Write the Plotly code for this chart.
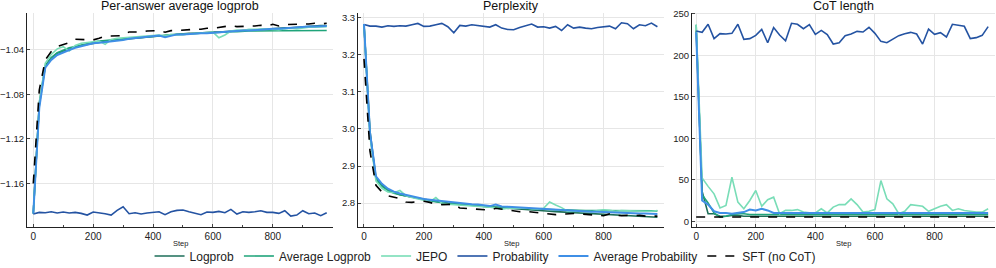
import plotly.graph_objects as go

steps = list(range(0, 1000, 20))

# ---------------- Per-answer average logprob ----------------
lp_logprob = [-1.187, -1.088, -1.054, -1.047, -1.043, -1.041, -1.039, -1.0375, -1.036, -1.035,
              -1.034, -1.033, -1.032, -1.0315, -1.031, -1.0305, -1.030, -1.029, -1.0285, -1.028,
              -1.0275, -1.027, -1.0265, -1.026, -1.026, -1.0255, -1.025, -1.025, -1.0245, -1.0245,
              -1.024, -1.024, -1.0235, -1.023, -1.023, -1.0225, -1.022, -1.022, -1.0215, -1.021,
              -1.021, -1.0205, -1.020, -1.020, -1.0195, -1.019, -1.019, -1.0185, -1.018, -1.018]
lp_avg_logprob = [-1.187, -1.090, -1.055, -1.047, -1.0425, -1.040, -1.038, -1.037, -1.0355, -1.034,
                  -1.033, -1.032, -1.0315, -1.031, -1.0305, -1.030, -1.0295, -1.029, -1.0285, -1.028,
                  -1.0275, -1.027, -1.027, -1.0265, -1.026, -1.026, -1.0255, -1.025, -1.025, -1.0245,
                  -1.0245, -1.024, -1.024, -1.0235, -1.0235, -1.023, -1.023, -1.023, -1.0228, -1.0228,
                  -1.0228, -1.0227, -1.0227, -1.0226, -1.0226, -1.0226, -1.0225, -1.0225, -1.0225, -1.0225]
lp_jepo = [-1.187, -1.087, -1.052, -1.044, -1.039, -1.037, -1.041, -1.036, -1.034, -1.0335,
           -1.033, -1.032, -1.035, -1.0305, -1.0295, -1.029, -1.029, -1.0285, -1.028, -1.0275,
           -1.027, -1.0265, -1.0275, -1.026, -1.0265, -1.026, -1.0255, -1.025, -1.0245, -1.0245,
           -1.024, -1.029, -1.0265, -1.023, -1.022, -1.0225, -1.0215, -1.0215, -1.021, -1.021,
           -1.0215, -1.022, -1.021, -1.0205, -1.021, -1.020, -1.0195, -1.0195, -1.019, -1.019]
lp_probability = [-1.1875, -1.1860, -1.1863, -1.1854, -1.1866, -1.1857, -1.1866, -1.1860, -1.1869, -1.1884,
                  -1.1857, -1.1863, -1.1872, -1.1884, -1.1842, -1.1809, -1.1872, -1.1863, -1.1875, -1.1866,
                  -1.1860, -1.1854, -1.1881, -1.1854, -1.1842, -1.1839, -1.1854, -1.1866, -1.1881, -1.1857,
                  -1.1860, -1.1851, -1.1863, -1.1833, -1.1875, -1.1854, -1.1860, -1.1854, -1.1845, -1.1860,
                  -1.1860, -1.1869, -1.1845, -1.1893, -1.1884, -1.1845, -1.1872, -1.1866, -1.1890, -1.1863]
lp_avg_probability = [-1.187, -1.092, -1.056, -1.049, -1.0445, -1.042, -1.040, -1.038, -1.0365, -1.035,
                      -1.034, -1.0335, -1.033, -1.032, -1.0315, -1.031, -1.030, -1.0295, -1.029, -1.028,
                      -1.0275, -1.027, -1.0285, -1.027, -1.026, -1.026, -1.0255, -1.0255, -1.025, -1.025,
                      -1.0245, -1.024, -1.024, -1.0235, -1.023, -1.0225, -1.0225, -1.022, -1.022, -1.0215,
                      -1.021, -1.021, -1.0205, -1.020, -1.020, -1.0195, -1.019, -1.019, -1.0185, -1.0185]
lp_sft = [-1.160, -1.076, -1.049, -1.0415, -1.037, -1.035, -1.0334, -1.0304, -1.0304, -1.031,
          -1.031, -1.0295, -1.0274, -1.0274, -1.0274, -1.0271, -1.0238, -1.0238, -1.0238, -1.0229,
          -1.0226, -1.0226, -1.0241, -1.0226, -1.0226, -1.022, -1.022, -1.0214, -1.0214, -1.0205,
          -1.0205, -1.0196, -1.0184, -1.0181, -1.019, -1.019, -1.0184, -1.0184, -1.0178, -1.0184,
          -1.0169, -1.0184, -1.0172, -1.0172, -1.0166, -1.0172, -1.0166, -1.016, -1.0166, -1.016]

# ---------------- Perplexity ----------------
pp_logprob = [3.283, 2.995, 2.868, 2.848, 2.835, 2.828, 2.823, 2.819, 2.816, 2.812,
              2.809, 2.806, 2.804, 2.802, 2.800, 2.799, 2.797, 2.796, 2.794, 2.793,
              2.791, 2.790, 2.789, 2.787, 2.786, 2.785, 2.784, 2.783, 2.781, 2.780,
              2.779, 2.778, 2.777, 2.776, 2.775, 2.774, 2.773, 2.772, 2.771, 2.770,
              2.769, 2.768, 2.768, 2.767, 2.766, 2.765, 2.765, 2.764, 2.763, 2.762]
pp_avg_logprob = [3.283, 2.985, 2.865, 2.845, 2.834, 2.827, 2.823, 2.820, 2.818, 2.815,
                  2.810, 2.806, 2.803, 2.800, 2.799, 2.798, 2.797, 2.797, 2.795, 2.793,
                  2.792, 2.790, 2.790, 2.789, 2.788, 2.787, 2.786, 2.786, 2.785, 2.784,
                  2.784, 2.783, 2.782, 2.782, 2.781, 2.781, 2.780, 2.780, 2.780, 2.780,
                  2.779, 2.779, 2.779, 2.779, 2.779, 2.779, 2.779, 2.779, 2.779, 2.779]
pp_jepo = [3.283, 2.980, 2.860, 2.840, 2.830, 2.828, 2.834, 2.820, 2.815, 2.812,
           2.808, 2.804, 2.815, 2.800, 2.797, 2.796, 2.795, 2.795, 2.794, 2.792,
           2.791, 2.789, 2.787, 2.784, 2.786, 2.787, 2.788, 2.787, 2.785, 2.784,
           2.786, 2.803, 2.795, 2.788, 2.778, 2.778, 2.777, 2.776, 2.777, 2.780,
           2.782, 2.781, 2.778, 2.780, 2.779, 2.778, 2.777, 2.778, 2.778, 2.780]
pp_probability = [3.2819, 3.2774, 3.2774, 3.2747, 3.2783, 3.2765, 3.2783, 3.2774, 3.2810, 3.2846,
                  3.2765, 3.2774, 3.2810, 3.2846, 3.2756, 3.2593, 3.2792, 3.2774, 3.2810, 3.2792,
                  3.2774, 3.2747, 3.2810, 3.2720, 3.2684, 3.2675, 3.2738, 3.2774, 3.2828, 3.2747,
                  3.2756, 3.2720, 3.2765, 3.2656, 3.2810, 3.2720, 3.2747, 3.2720, 3.2702, 3.2738,
                  3.2756, 3.2774, 3.2702, 3.2864, 3.2837, 3.2702, 3.2810, 3.2783, 3.2855, 3.2756]
pp_avg_probability = [3.283, 2.990, 2.872, 2.852, 2.839, 2.831, 2.826, 2.822, 2.818, 2.815,
                      2.811, 2.809, 2.807, 2.805, 2.803, 2.801, 2.800, 2.799, 2.797, 2.796,
                      2.794, 2.792, 2.796, 2.791, 2.790, 2.789, 2.788, 2.787, 2.786, 2.786,
                      2.785, 2.784, 2.783, 2.781, 2.780, 2.779, 2.779, 2.778, 2.777, 2.777,
                      2.776, 2.775, 2.775, 2.774, 2.773, 2.773, 2.772, 2.772, 2.771, 2.771]
pp_sft = [3.189, 2.940, 2.848, 2.830, 2.820, 2.816, 2.812, 2.803, 2.802, 2.804,
          2.805, 2.802, 2.797, 2.796, 2.797, 2.797, 2.787, 2.786, 2.784, 2.783,
          2.782, 2.781, 2.786, 2.784, 2.781, 2.778, 2.777, 2.778, 2.776, 2.774,
          2.773, 2.769, 2.769, 2.770, 2.772, 2.772, 2.771, 2.770, 2.768, 2.769,
          2.766, 2.771, 2.767, 2.766, 2.767, 2.766, 2.767, 2.765, 2.766, 2.765]

# ---------------- CoT length ----------------
cot_logprob = [230, 36, 9, 9, 6, 6, 7, 7, 6, 6,
               6, 6, 6, 6, 6, 6, 6, 6, 6, 6,
               6, 6, 6, 6, 6, 6, 6, 6, 6, 6,
               6, 6, 6, 6, 6, 6, 6, 6, 6, 6,
               6, 6, 6, 6, 6, 6, 6, 6, 6, 6]
cot_avg_logprob = [237, 32, 22, 10, 5, 6, 8, 9, 9, 8,
                   8, 8, 8, 8, 8, 8, 8, 8, 8, 8,
                   8, 8, 8, 8, 8, 8, 8, 8, 8, 8,
                   8, 8, 8, 8, 8, 8, 8, 8, 8, 8,
                   8, 8, 8, 8, 8, 8, 8, 8, 8, 8]
cot_jepo = [237, 52, 42, 33, 16, 19, 53, 23, 15, 25,
            37, 18, 26, 29, 9, 13, 13, 14, 11, 10,
            10, 15, 10, 17, 20, 20, 27, 20, 11, 12,
            14, 49, 27, 21, 9, 12, 20, 19, 18, 12,
            15, 18, 20, 13, 15, 13, 12, 11, 11, 15]
cot_probability = [229.4, 227.8, 237.5, 220.2, 226.2, 225.8, 226.6, 237.5, 219.3, 220.2,
                   224.2, 231.4, 215.3, 233.5, 224.6, 217.7, 238.7, 237.5, 232.2, 237.1,
                   225.4, 230.2, 225.0, 213.7, 215.3, 223.8, 225.8, 229.0, 228.2, 233.9,
                   226.6, 216.9, 215.3, 219.3, 223.8, 226.2, 227.8, 225.8, 213.7, 231.8,
                   225.4, 227.4, 222.2, 237.5, 235.9, 235.1, 220.2, 221.4, 224.2, 234.7]
cot_avg_probability = [228, 25, 20, 12, 10, 10, 9, 10, 11, 14,
                       13, 15, 13, 10, 10, 10, 10, 10, 10, 10,
                       10, 10, 10, 10, 10, 10, 10, 10, 10, 10,
                       10, 10, 10, 10, 10, 10, 10, 10, 10, 10,
                       10, 10, 10, 10, 10, 10, 10, 10, 10, 10]
cot_sft = [5] * 50

series_names = ["Logprob", "Average Logprob", "JEPO", "Probability", "Average Probability", "SFT (no CoT)"]
colors = ["#1d6e58", "#1fa47a", "#79ddb7", "#2453a2", "#3f8fe6", "#000000"]
dashes = ["solid", "solid", "solid", "solid", "solid", "dash"]
widths = [1.6, 1.6, 1.6, 1.6, 2.0, 1.6]

panels = [
    [lp_logprob, lp_avg_logprob, lp_jepo, lp_probability, lp_avg_probability, lp_sft],
    [pp_logprob, pp_avg_logprob, pp_jepo, pp_probability, pp_avg_probability, pp_sft],
    [cot_logprob, cot_avg_logprob, cot_jepo, cot_probability, cot_avg_probability, cot_sft],
]
titles = ["Per-answer average logprob", "Perplexity", "CoT length"]

W, H = 996, 268
xdoms = [(27, 333), (358, 664), (692, 995)]
ytop, ybot = 12.7, 226.5
ydom = [1 - ybot / H, 1 - ytop / H]
xranges = [[-21, 1001], [-20, 1002], [-14, 1003]]
yranges = [[-1.1987, -1.0065], [2.737, 3.3135], [-6.4, 251.5]]
ytickvals = [[-1.16, -1.12, -1.08, -1.04], [2.8, 2.9, 3.0, 3.1, 3.2, 3.3], [0, 50, 100, 150, 200, 250]]
yticktext = [["−1.16", "−1.12", "−1.08", "−1.04"], ["2.8", "2.9", "3.0", "3.1", "3.2", "3.3"],
             ["0", "50", "100", "150", "200", "250"]]

fig = go.Figure()
FONT = "Liberation Sans"

for p in range(3):
    xa = "x" if p == 0 else f"x{p+1}"
    ya = "y" if p == 0 else f"y{p+1}"
    for i, vals in enumerate(panels[p]):
        fig.add_trace(go.Scatter(
            x=steps, y=vals, mode="lines", name=series_names[i],
            line=dict(color=colors[i], width=widths[i], dash=dashes[i]),
            xaxis=xa, yaxis=ya, showlegend=(p == 0), legendgroup=series_names[i],
        ))

layout = dict(
    width=W, height=H, margin=dict(l=0, r=0, t=0, b=0, autoexpand=False),
    paper_bgcolor="white", plot_bgcolor="white",
    font=dict(family=FONT, size=10, color="#222"),
    legend=dict(orientation="h", x=0.487, xanchor="center", y=1 - 256 / H, yanchor="middle",
                font=dict(size=12, color="#222", family=FONT), bgcolor="rgba(0,0,0,0)",
                itemwidth=30, tracegroupgap=0, traceorder="normal"),
    annotations=[],
)
for p in range(3):
    sfx = "" if p == 0 else str(p + 1)
    x0, x1 = xdoms[p]
    layout["xaxis" + sfx] = dict(
        domain=[x0 / W, x1 / W], range=xranges[p], anchor="y" + sfx, automargin=False,
        tickvals=[0, 200, 400, 600, 800], ticks="inside", ticklen=3, tickcolor="#444",
        showline=True, linecolor="#222", linewidth=1, mirror=False,
        showgrid=True, gridcolor="#e6e6e6", gridwidth=1, zeroline=False,
        tickfont=dict(size=10, color="#222"),
        minor=dict(tickvals=[100, 300, 500, 700, 900], ticks="inside", ticklen=2, tickcolor="#444", showgrid=False),
    )
    layout["yaxis" + sfx] = dict(
        domain=ydom, range=yranges[p], anchor="x" + sfx, automargin=False,
        tickvals=ytickvals[p], ticktext=yticktext[p], ticks="inside", ticklen=3, tickcolor="#444",
        showline=True, linecolor="#222", linewidth=1, mirror=False,
        showgrid=True, gridcolor="#e6e6e6", gridwidth=1, zeroline=False,
        tickfont=dict(size=9.5, color="#222"),
    )
    cx = (x0 + x1) / 2 / W
    layout["annotations"].append(dict(text=titles[p], x=cx, y=1 - 5.5 / H, xref="paper", yref="paper",
                                      xanchor="center", yanchor="middle", showarrow=False,
                                      font=dict(size=12.5, color="#111")))
    layout["annotations"].append(dict(text="Step", x=cx, y=1 - 243 / H, xref="paper", yref="paper",
                                      xanchor="center", yanchor="middle", showarrow=False,
                                      font=dict(size=7.5, color="#222")))

fig.update_layout(**layout)
fig.write_html("out.html", config={"displayModeBar": False},
               post_script="document.body.style.margin='0px';document.body.style.overflow='hidden';")
